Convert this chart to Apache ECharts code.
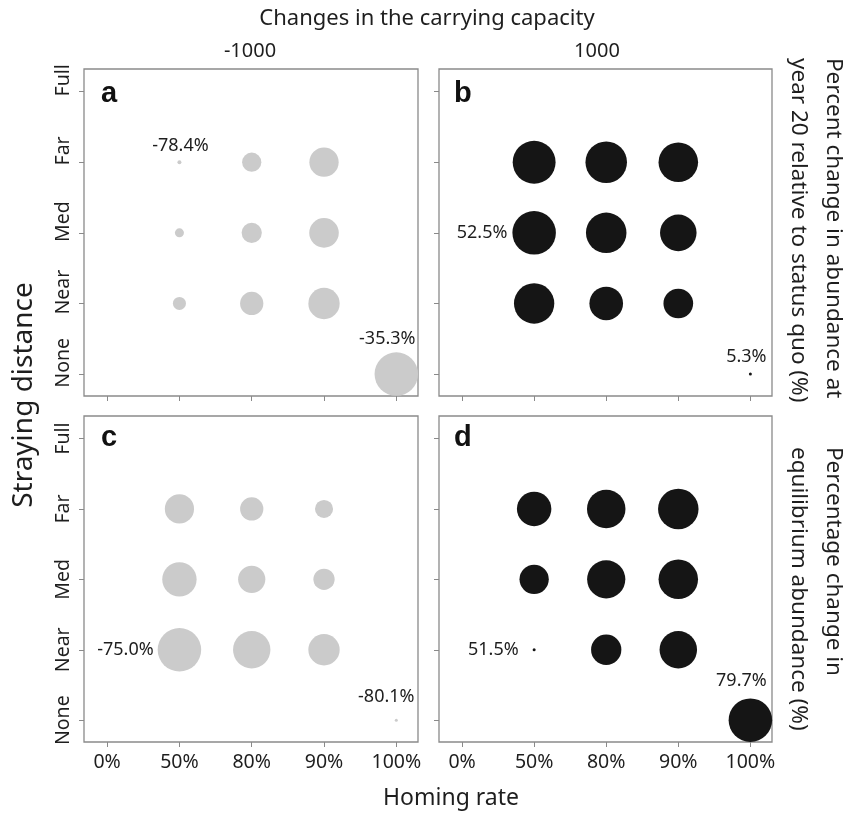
<!DOCTYPE html>
<html>
<head>
<meta charset="utf-8">
<script src="https://cdn.jsdelivr.net/npm/echarts@6/dist/echarts.min.js"></script>
<style>
html,body{margin:0;padding:0;background:#fff;}
#chart{width:858px;height:814px;}
</style>
</head>
<body>
<div id="chart"></div>
<script>
// Categories
const homingRates = ['0%', '50%', '80%', '90%', '100%'];
const strayingDistances = ['None', 'Near', 'Med', 'Far', 'Full'];

// Each point: [homing index, straying index, percent change]
// a: year 20, carrying capacity -1000
const panelA = [
  [1, 3, -78.4], [2, 3, -61.8], [3, 3, -50.8],
  [1, 2, -72.9], [2, 2, -60.7], [3, 2, -50.5],
  [1, 1, -68.5], [2, 1, -57.4], [3, 1, -48.6],
  [4, 0, -35.3]
];
// b: year 20, carrying capacity 1000
const panelB = [
  [1, 3, 51.8], [2, 3, 50.2], [3, 3, 47.9],
  [1, 2, 52.5], [2, 2, 49.0], [3, 2, 44.4],
  [1, 1, 48.8], [2, 1, 41.0], [3, 1, 36.4],
  [4, 0, 5.3]
];
// c: equilibrium, carrying capacity -1000
const panelC = [
  [1, 3, -76.8], [2, 3, -77.55], [3, 3, -78.2],
  [1, 2, -76.15], [2, 2, -77.05], [3, 2, -77.8],
  [1, 1, -75.0], [2, 1, -75.77], [3, 1, -76.53],
  [4, 0, -80.1]
];
// d: equilibrium, carrying capacity 1000
const panelD = [
  [1, 3, 73.4], [2, 3, 76.2], [3, 3, 77.6],
  [1, 2, 69.8], [2, 2, 76.0], [3, 2, 76.9],
  [1, 1, 51.5], [2, 1, 70.5], [3, 1, 75.5],
  [4, 0, 79.7]
];
// Labelled points: [homing index, straying index]
const labelsA = [[1, 3], [4, 0]];
const labelsB = [[1, 2], [4, 0]];
const labelsC = [[1, 1], [4, 0]];
const labelsD = [[1, 1], [4, 0]];

const capacityLabels = ['-1000', '1000'];

const chart = echarts.init(document.getElementById('chart'));
const FONT = 'Noto Sans';
const TXT = '#1e1e1e';
const BORDER = '#8a8a8a';

const grids = [
  {left: 84, top: 69, width: 334, height: 327},
  {left: 439, top: 69, width: 333, height: 327},
  {left: 84, top: 416, width: 334, height: 326},
  {left: 439, top: 416, width: 333, height: 326}
];
const panels = [panelA, panelB, panelC, panelD];
const panelLabels = [labelsA, labelsB, labelsC, labelsD];
const colors = ['#cbcbcb', '#151515', '#cbcbcb', '#151515'];
// label placement per panel: [first labelled point, second labelled point]
const labelStyle = [
  [{position: 'top', distance: 5, offset: [1, 0]}, {position: 'top', distance: 4, offset: [-9, 0]}],
  [{position: 'left', distance: 5}, {position: 'top', distance: 7, offset: [-4, 0]}],
  [{position: 'left', distance: 4}, {position: 'top', distance: 13, offset: [-10, 0]}],
  [{position: 'left', distance: 14}, {position: 'top', distance: 9, offset: [-9, 0]}]
];

const ticks = [0, 1, 2, 3, 4];
const xAxes = [], yAxes = [], series = [];
grids.forEach((g, i) => {
  const bottomRow = i >= 2, leftCol = i % 2 === 0;
  xAxes.push({
    gridIndex: i, type: 'value', min: -0.32, max: 4.30,
    axisLine: {show: false, onZero: false},
    splitLine: {show: false},
    axisTick: {show: true, customValues: ticks, length: 5, lineStyle: {color: BORDER, width: 1}},
    axisLabel: {show: bottomRow, customValues: ticks, margin: 10,
      formatter: v => homingRates[Math.round(v)],
      fontFamily: FONT, fontSize: 19.5, color: TXT}
  });
  const ylabShift = i === 0 ? 0.16 : 0;
  yAxes.push({
    gridIndex: i, type: 'value', min: -0.31, max: 4.32,
    axisLine: {show: false, onZero: false},
    splitLine: {show: false},
    axisTick: {show: true, customValues: ticks, length: 5, lineStyle: {color: BORDER, width: 1}},
    axisLabel: {show: leftCol, customValues: ticks.map(t => t + ylabShift), margin: 11, rotate: 90,
      formatter: v => strayingDistances[Math.round(v)],
      fontFamily: FONT, fontSize: 19.5, color: TXT}
  });
  const pts = panels[i];
  const vals = pts.map(p => p[2]);
  const vmin = Math.min(...vals), vmax = Math.max(...vals);
  const dMin = i === 0 ? 4 : 3, dMax = 43.5;
  const data = pts.map(p => {
    const item = {value: p};
    const li = panelLabels[i].findIndex(l => l[0] === p[0] && l[1] === p[1]);
    if (li >= 0) {
      item.label = Object.assign({show: true}, labelStyle[i][li]);
    }
    return item;
  });
  series.push({
    type: 'scatter', xAxisIndex: i, yAxisIndex: i,
    symbol: 'circle',
    symbolSize: v => dMin + (v[2] - vmin) / (vmax - vmin) * (dMax - dMin),
    itemStyle: {color: colors[i], opacity: 1},
    label: {show: false, formatter: p => p.value[2].toFixed(1) + '%',
      fontFamily: FONT, fontSize: 18, color: TXT},
    emphasis: {disabled: true},
    data: data
  });
});

function t(text, x, y, size, opts) {
  return Object.assign({type: 'text', x: x, y: y,
    style: {text: text, font: size + 'px "Noto Sans"', fill: TXT, textAlign: 'center', textVerticalAlign: 'middle'}}, opts || {});
}
function tv(text, x, y, size) {
  return {type: 'text', x: x, y: y, rotation: -Math.PI / 2,
    style: {text: text, font: size + 'px "Noto Sans"', fill: TXT, textAlign: 'left', textVerticalAlign: 'middle'}};
}
function letter(text, x, y) {
  return {type: 'text', x: x, y: y,
    style: {text: text, font: 'bold 29px "Liberation Sans"', fill: '#111', textAlign: 'left', textVerticalAlign: 'middle'}};
}

const graphic = [
  t('Changes in the carrying capacity', 427, 19, 22),
  t(capacityLabels[0], 250, 51, 20),
  t(capacityLabels[1], 597, 51, 20),
  t('Straying distance', 24, 395, 28, {rotation: Math.PI / 2}),
  t('Homing rate', 451, 798, 23),
  tv('Percent change in abundance at', 833, 58, 22.5),
  tv('year 20 relative to status quo (%)', 798, 58, 22.5),
  tv('Percentage change in', 833, 447, 22.5),
  tv('equilibrium abundance (%)', 798, 447, 22.5),
  letter('a', 101, 94),
  letter('b', 454, 94),
  letter('c', 101, 438),
  letter('d', 454, 438)
];

chart.setOption({
  animation: false,
  backgroundColor: '#ffffff',
  grid: grids.map(g => Object.assign({show: true, borderColor: BORDER, borderWidth: 1.3, backgroundColor: 'transparent', containLabel: false}, g)),
  xAxis: xAxes,
  yAxis: yAxes,
  series: series,
  graphic: graphic
});
</script>
</body>
</html>
